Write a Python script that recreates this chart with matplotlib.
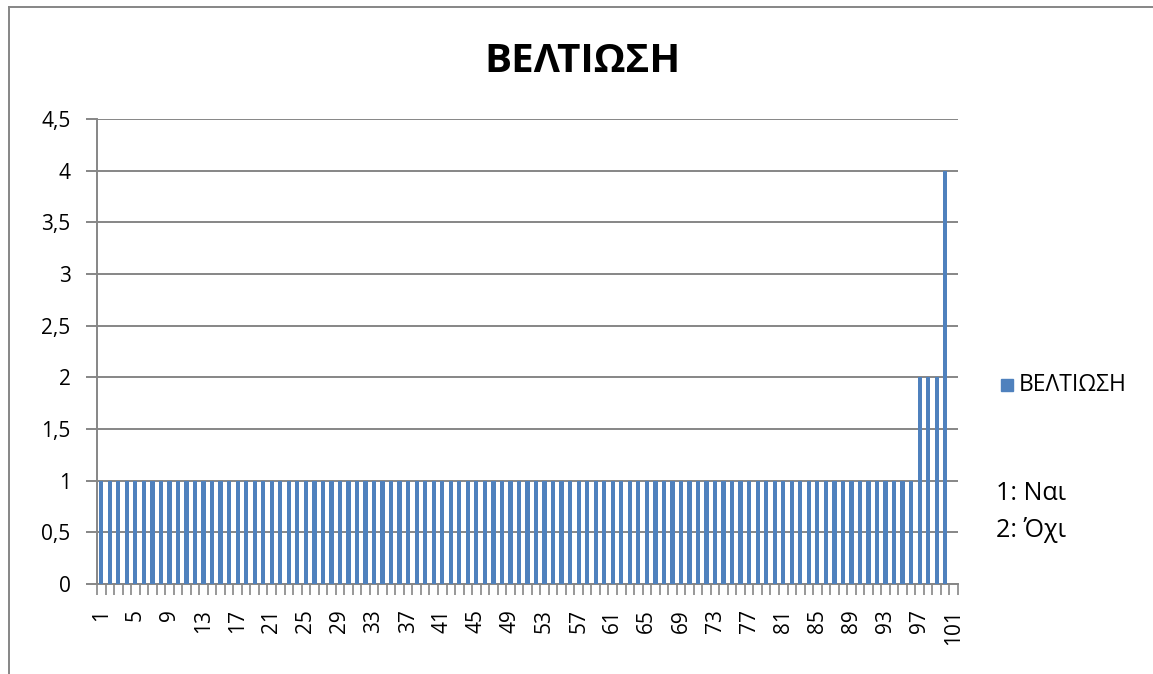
import matplotlib
matplotlib.use("Agg")
import matplotlib.pyplot as plt
from matplotlib.lines import Line2D
from matplotlib.patches import Rectangle

plt.rcParams['font.family'] = ['Open Sans', 'DejaVu Sans']

title = "ΒΕΛΤΙΩΣΗ"
series_name = "ΒΕΛΤΙΩΣΗ"
categories = list(range(1, 102))
values = [1, 1, 1, 1, 1, 1, 1, 1, 1, 1,
          1, 1, 1, 1, 1, 1, 1, 1, 1, 1,
          1, 1, 1, 1, 1, 1, 1, 1, 1, 1,
          1, 1, 1, 1, 1, 1, 1, 1, 1, 1,
          1, 1, 1, 1, 1, 1, 1, 1, 1, 1,
          1, 1, 1, 1, 1, 1, 1, 1, 1, 1,
          1, 1, 1, 1, 1, 1, 1, 1, 1, 1,
          1, 1, 1, 1, 1, 1, 1, 1, 1, 1,
          1, 1, 1, 1, 1, 1, 1, 1, 1, 1,
          1, 1, 1, 1, 1, 1, 2, 2, 2, 4,
          0]
yticks = [0, 0.5, 1, 1.5, 2, 2.5, 3, 3.5, 4, 4.5]
ytick_labels = ["0", "0,5", "1", "1,5", "2", "2,5", "3", "3,5", "4", "4,5"]
label_categories = categories[::4]
notes = ["1: Ναι", "2: Όχι"]

bar_color = "#4F81BD"
grid_color = "#868686"

W, H = 1153, 674
fig = plt.figure(figsize=(W / 100, H / 100), dpi=100)
ax = fig.add_axes([97 / W, 1 - 584 / H, (958 - 97) / W, (584 - 119) / H])

ax.bar(categories, values, width=0.5, color=bar_color, zorder=3)

ax.set_xlim(0.5, len(categories) + 0.5)
ax.set_ylim(0, 4.5)

ax.set_yticks(yticks)
ax.set_yticklabels(ytick_labels, fontsize=15)
ax.yaxis.grid(True, color=grid_color, linewidth=1.4, zorder=0)
ax.tick_params(axis='y', length=8, width=1.4, color=grid_color, pad=11)

ax.set_xticks(label_categories)
ax.set_xticklabels([str(c) for c in label_categories], rotation=90, fontsize=15)
ax.set_xticks([c - 0.5 for c in categories] + [len(categories) + 0.5], minor=True)
ax.tick_params(axis='x', which='major', length=0, pad=18)
ax.tick_params(axis='x', which='minor', length=8, width=1.2, color=grid_color)

for s in ['top', 'right']:
    ax.spines[s].set_visible(False)
for s in ['left', 'bottom']:
    ax.spines[s].set_color(grid_color)
    ax.spines[s].set_linewidth(1.4)

fig.text(583 / W, 1 - 61 / H, title, ha='center', va='center',
         fontsize=29, fontweight='bold')

# legend
fig.patches.append(Rectangle((1001 / W, 1 - 391 / H), 12 / W, 12 / H,
                             transform=fig.transFigure, color=bar_color))
fig.text(1019 / W, 1 - 385 / H, series_name, ha='left', va='center', fontsize=16.5)

fig.text(996 / W, 1 - 494 / H, notes[0], ha='left', va='center', fontsize=18)
fig.text(996 / W, 1 - 530 / H, notes[1], ha='left', va='center', fontsize=18)

# outer chart border (left and top)
fig.add_artist(Line2D([8.5 / W, 8.5 / W], [0, 1 - 6.5 / H], transform=fig.transFigure,
                      color=grid_color, linewidth=1.4))
fig.add_artist(Line2D([8.5 / W, 1], [1 - 6.5 / H, 1 - 6.5 / H], transform=fig.transFigure,
                      color=grid_color, linewidth=1.4))

fig.savefig("out.png", dpi=100)
